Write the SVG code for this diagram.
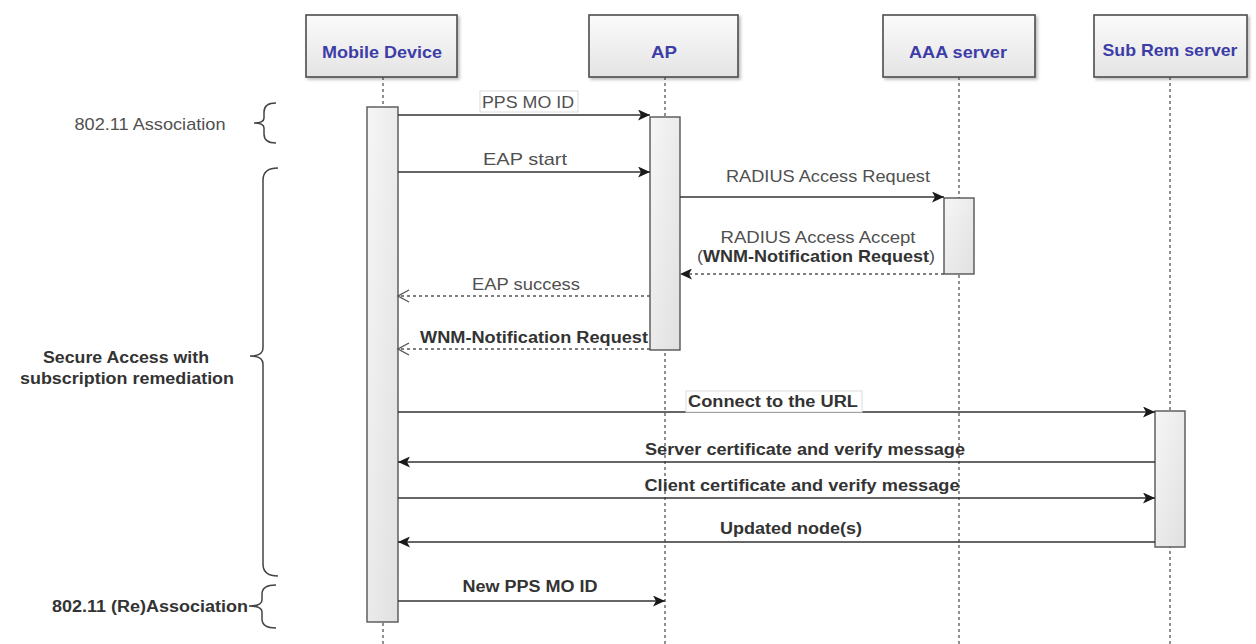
<svg xmlns="http://www.w3.org/2000/svg" width="1256" height="644" viewBox="0 0 1256 644">
  <style>
    .head { fill: url(#headFill); stroke: #4d4d4d; stroke-width: 1.6; }
    .headText { font-family: "Liberation Sans", Arial, sans-serif; font-weight: bold; font-size: 17px; fill: #3d3da8; text-anchor: middle; }
    .life { stroke: #555; stroke-width: 1.3; stroke-dasharray: 3 3; fill: none; }
    .act { fill: url(#actFill); stroke: #555; stroke-width: 1.4; }
    .msg { stroke: #333; stroke-width: 1.6; fill: none; }
    .ret { stroke: #555; stroke-width: 1.4; stroke-dasharray: 3 3; fill: none; }
    .lbl { font-family: "Liberation Sans", Arial, sans-serif; font-size: 17px; fill: #505050; text-anchor: middle; }
    .lblB { font-family: "Liberation Sans", Arial, sans-serif; font-size: 16px; font-weight: bold; fill: #333; text-anchor: middle; }
    .lblBox { fill: #fff; stroke: #dcdcdc; stroke-width: 1; }
    .brace { stroke: #444; stroke-width: 1.5; fill: none; }
  </style>
  <defs>
    <linearGradient id="headFill" x1="0" y1="0" x2="0" y2="1">
      <stop offset="0" stop-color="#fbfbfb"/>
      <stop offset="1" stop-color="#e4e4e4"/>
    </linearGradient>
    <linearGradient id="actFill" x1="0" y1="0" x2="1" y2="1">
      <stop offset="0" stop-color="#f6f6f6"/>
      <stop offset="1" stop-color="#e0e0e0"/>
    </linearGradient>
    <filter id="shadow" x="-10%" y="-10%" width="130%" height="140%">
      <feDropShadow dx="2" dy="2" stdDeviation="1.5" flood-color="#000" flood-opacity="0.25"/>
    </filter>
    <marker id="fill" markerUnits="userSpaceOnUse" markerWidth="13" markerHeight="11" refX="12" refY="5.5" orient="auto">
      <path d="M0,0 L12,5.5 L0,11 L3,5.5 Z" fill="#1a1a1a"/>
    </marker>
    <marker id="open" markerUnits="userSpaceOnUse" markerWidth="14" markerHeight="14" refX="12" refY="7" orient="auto">
      <path d="M1,1 L12,7 L1,13" fill="none" stroke="#555" stroke-width="1.4"/>
    </marker>
  </defs>

  <rect width="1256" height="644" fill="#fff"/>

  <!-- lifelines -->
  <g id="lifelines">
    <line class="life" x1="383" y1="77" x2="383" y2="644"/>
    <line class="life" x1="665" y1="77" x2="665" y2="644"/>
    <line class="life" x1="959" y1="77" x2="959" y2="644"/>
    <line class="life" x1="1170" y1="77" x2="1170" y2="644"/>
  </g>

  <!-- participants -->
  <g id="mobile-device">
    <rect class="head" x="306" y="15" width="151" height="62" filter="url(#shadow)"/>
    <text class="headText" x="382" y="58" textLength="120" lengthAdjust="spacingAndGlyphs">Mobile Device</text>
    <rect class="act" x="367" y="107" width="31" height="515"/>
  </g>
  <g id="ap">
    <rect class="head" x="589" y="15" width="149" height="62" filter="url(#shadow)"/>
    <text class="headText" x="664" y="58" textLength="26" lengthAdjust="spacingAndGlyphs">AP</text>
    <rect class="act" x="650" y="117" width="30" height="233"/>
  </g>
  <g id="aaa-server">
    <rect class="head" x="883" y="15" width="152" height="62" filter="url(#shadow)"/>
    <text class="headText" x="958" y="58" textLength="98" lengthAdjust="spacingAndGlyphs">AAA server</text>
    <rect class="act" x="944" y="198" width="30" height="76"/>
  </g>
  <g id="sub-rem-server">
    <rect class="head" x="1094" y="15" width="153" height="62" filter="url(#shadow)"/>
    <text class="headText" x="1170" y="56" textLength="135" lengthAdjust="spacingAndGlyphs">Sub Rem server</text>
    <rect class="act" x="1155" y="411" width="30" height="136"/>
  </g>

  <!-- phase labels and braces -->
  <g id="phase-association">
    <text class="lbl" x="150" y="130" textLength="151" lengthAdjust="spacingAndGlyphs" font-size="16">802.11 Association</text>
    <path class="brace" d="M276,103 Q264,103 264,112 L264,118 Q264,123 254,123 Q264,123 264,128 L264,134 Q264,143 276,143"/>
  </g>
  <g id="phase-secure-access">
    <text class="lblB" x="126" y="363" textLength="166" lengthAdjust="spacingAndGlyphs">Secure Access with</text>
    <text class="lblB" x="127" y="384" textLength="214" lengthAdjust="spacingAndGlyphs">subscription remediation</text>
    <path class="brace" d="M278,168 Q263,168 263,180 L263,348 Q263,356 250,356 Q263,356 263,364 L263,564 Q263,576 278,576"/>
  </g>
  <g id="phase-reassociation">
    <text class="lblB" x="150" y="612" textLength="196" lengthAdjust="spacingAndGlyphs">802.11 (Re)Association</text>
    <path class="brace" d="M276,585 Q262,585 262,594 L262,600 Q262,606 249,606 Q262,606 262,612 L262,619 Q262,628 276,628"/>
  </g>

  <!-- messages -->
  <g id="connectors">
    <line class="msg" x1="398" y1="115" x2="650" y2="115" marker-end="url(#fill)"/>
    <line class="msg" x1="398" y1="172" x2="650" y2="172" marker-end="url(#fill)"/>
    <line class="msg" x1="680" y1="197" x2="944" y2="197" marker-end="url(#fill)"/>
    <line class="ret" x1="944" y1="274" x2="680" y2="274" marker-end="url(#fill)"/>
    <line class="ret" x1="650" y1="296" x2="398" y2="296" marker-end="url(#open)"/>
    <line class="ret" x1="650" y1="349" x2="398" y2="349" marker-end="url(#open)"/>
    <line class="msg" x1="398" y1="412" x2="1155" y2="412" marker-end="url(#fill)"/>
    <line class="msg" x1="1155" y1="462" x2="398" y2="462" marker-end="url(#fill)"/>
    <line class="msg" x1="398" y1="498" x2="1155" y2="498" marker-end="url(#fill)"/>
    <line class="msg" x1="1155" y1="542" x2="398" y2="542" marker-end="url(#fill)"/>
    <line class="msg" x1="398" y1="601" x2="665" y2="601" marker-end="url(#fill)"/>
  </g>

  <!-- message labels -->
  <g id="message-labels">
    <rect class="lblBox" x="480" y="91" width="98" height="21"/>
    <text class="lbl" x="528" y="108" textLength="92" lengthAdjust="spacingAndGlyphs">PPS MO ID</text>
    <text class="lbl" x="525" y="165" textLength="84" lengthAdjust="spacingAndGlyphs">EAP start</text>
    <text class="lbl" x="828" y="182" textLength="204" lengthAdjust="spacingAndGlyphs">RADIUS Access Request</text>
    <text class="lbl" x="818" y="243" textLength="195" lengthAdjust="spacingAndGlyphs">RADIUS Access Accept</text>
    <text class="lbl" x="816" y="262" textLength="238" lengthAdjust="spacingAndGlyphs">(<tspan font-weight="bold" fill="#333">WNM-Notification Request</tspan>)</text>
    <text class="lbl" x="526" y="290" textLength="108" lengthAdjust="spacingAndGlyphs">EAP success</text>
    <text class="lblB" x="534" y="343" textLength="228" lengthAdjust="spacingAndGlyphs">WNM-Notification Request</text>
    <rect class="lblBox" x="686" y="391" width="176" height="21"/>
    <text class="lblB" x="773" y="407" textLength="170" lengthAdjust="spacingAndGlyphs">Connect to the URL</text>
    <text class="lblB" x="805" y="455" textLength="320" lengthAdjust="spacingAndGlyphs">Server certificate and verify message</text>
    <text class="lblB" x="802" y="491" textLength="315" lengthAdjust="spacingAndGlyphs">Client certificate and verify message</text>
    <text class="lblB" x="791" y="534" textLength="142" lengthAdjust="spacingAndGlyphs">Updated node(s)</text>
    <text class="lblB" x="530" y="592" textLength="135" lengthAdjust="spacingAndGlyphs">New PPS MO ID</text>
  </g>
</svg>
